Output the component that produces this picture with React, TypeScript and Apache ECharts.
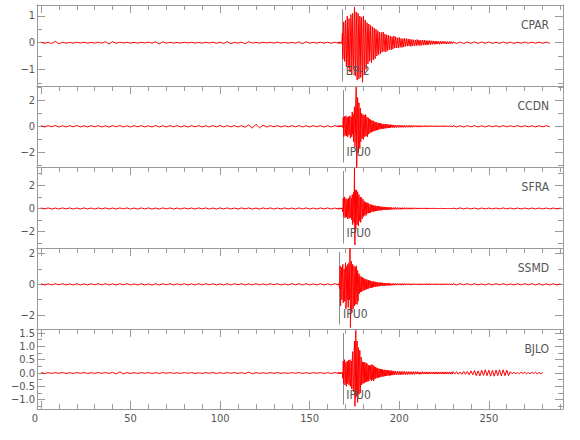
import React, { useEffect, useRef } from 'react';
import * as echarts from 'echarts';

// ---------- Data ----------
const STATIONS = ['CPAR', 'CCDN', 'SFRA', 'SSMD', 'BJLO'];
const PICK_TIMES = [168.2, 168.6, 168.6, 166.7, 168.5];
const PICK_LABELS = ['EP-2', 'IPU0', 'IPU0', 'IPU0', 'IPU0'];

const X_MAJOR = [0, 50, 100, 150, 200, 250];
const X_MINOR = [10, 20, 30, 40, 60, 70, 80, 90, 110, 120, 130, 140, 160, 170, 180, 190, 210, 220, 230, 240, 260, 270, 280, 290];

const Y_MIN = [-1.62, -3.11, -3.41, -2.9, -1.35];
const Y_MAX = [1.41, 3.08, 3.58, 2.36, 1.65];
const Y_MAJOR = [[-1, 0, 1], [-2, 0, 2], [-2, 0, 2], [-2, 0, 2], [-1, -0.5, 0, 0.5, 1, 1.5]];
const Y_MINOR = [[-1.5, -0.5, 0.5], [-3, -1, 1, 3], [-3, -1, 1, 3], [-1, 1], [-1.25, -0.75, -0.25, 0.25, 0.75, 1.25]];
const Y_DECIMALS = [0, 0, 0, 0, 1];

// sampling of the traces (seconds): pre-event, main event, early coda, late coda
const PRE_START = 0, PRE_STEP = 2;
const EV1_START = 166, EV1_STEP = 0.25;
const EV2_START = 196, EV2_STEP = 0.5;
const TAIL_START = 230;
const TAIL_STEP = [2, 2, 2, 2, 1];

// ---- CPAR ----
const CPAR_PRE = [
  0.015, -0.02, 0.01, -0.03, 0.05, -0.04, 0.015, -0.015, 0.01, -0.015, 0.015, -0.01, 0.015, -0.015,
  0.01, -0.015, 0.015, -0.02, 0.04, -0.05, 0.04, -0.02, 0.015, -0.01, 0.015, -0.015, 0.01, -0.015,
  0.015, -0.01, 0.02, -0.015, 0.03, -0.05, 0.035, -0.02, 0.015, -0.015, 0.01, -0.015, 0.015, -0.01,
  0.015, -0.015, 0.01, -0.015, 0.015, -0.01, 0.015, -0.02, 0.015, -0.03, 0.04, -0.035, 0.015, -0.015,
  0.02, -0.04, 0.035, -0.015, 0.01, -0.015, 0.015, -0.01, 0.015, -0.015, 0.02, -0.015, 0.01, -0.015,
  0.015, -0.02, 0.03, -0.04, 0.035, -0.02, 0.015, -0.015, 0.02, -0.015, 0.015, -0.02, 0.015, -0.015,
];
const CPAR_EV1 = [
  0.02, -0.03, 0.03, -0.02, 0.03, -0.02, 0.02, -0.03, 0.02,
  0.35,
  -0.62, 0.45, 0.78, -0.3, -0.7, 0.55, 0.85, -0.5, -0.9, 0.3,
  1.0, -0.6, -0.95, 0.4, 0.9, -0.8, -1.1, 0.2, 1.05, 0.7,
  -1.2, -0.5, 1.1, 0.3, -1.0, -0.6, 1.33, 0.8, -1.25, -0.4,
  1.15, 0.5, -1.4, -0.9, 1.1, 0.6, -1.35, -0.3, 1.0, 0.7,
  -1.3, -0.5, 0.95, 0.4, -1.48, -0.7, 1.0, 0.45, -1.2, -0.3,
  0.85, 0.3, -1.0, -0.4, 0.75, 0.5, -0.8, -0.2, 0.7, 0.4,
  -0.7, -0.3, 0.65, 0.2, -0.75, -0.4, 0.6, 0.3, -0.65, -0.2,
  0.55, 0.3, -0.6, -0.2, 0.5, 0.25, -0.5, -0.3, 0.45, 0.2,
  -0.45, -0.2, 0.4, 0.15, -0.42, -0.25, 0.38, 0.2, -0.35, -0.15,
  0.4, 0.2, -0.33, -0.1, 0.32, 0.15, -0.35, -0.2, 0.3, 0.1,
  -0.3, -0.15, 0.28, 0.12, -0.26, -0.1, 0.25, 0.15, -0.27, -0.1,
];
const CPAR_EV2 = [
  0.22, -0.24, 0.25, -0.2, 0.22, -0.2, 0.18, -0.2, 0.2, -0.17,
  0.16, -0.18, 0.15, -0.16, 0.17, -0.14, 0.15, -0.13, 0.14, -0.12,
  0.13, -0.14, 0.12, -0.12, 0.11, -0.12, 0.1, -0.11, 0.12, -0.1,
  0.1, -0.11, 0.09, -0.1, 0.1, -0.09, 0.1, -0.09, 0.08, -0.09,
  0.08, -0.07, 0.08, -0.07, 0.07, -0.06, 0.07, -0.06, 0.06, -0.06,
  0.06, -0.05, 0.05, -0.06, 0.05, -0.05, 0.05, -0.04, 0.05, -0.04,
  0.04, -0.05, 0.04, -0.04, 0.04, -0.04, 0.04, -0.03,
];
const CPAR_TAIL = [
  0.03, -0.03, 0.025, -0.03, 0.025, -0.025, 0.03, -0.025, 0.025, -0.02,
  0.025, -0.025, 0.02, -0.025, 0.025, -0.02, 0.02, -0.025, 0.02, -0.02,
  0.025, -0.02, 0.02, -0.02, 0.02, -0.02, 0.02, -0.02,
];

// ---- CCDN ----
const CCDN_PRE = [
  0.04, -0.05, 0.05, -0.04, 0.06, -0.05, 0.04, -0.05, 0.05, -0.04, 0.06, -0.05, 0.04, -0.05,
  0.05, -0.04, 0.05, -0.05, 0.04, -0.06, 0.05, -0.04, 0.05, -0.05, 0.04, -0.05, 0.05, -0.04,
  0.05, -0.05, 0.04, -0.05, 0.06, -0.05, 0.04, -0.05, 0.05, -0.04, 0.05, -0.05, 0.04, -0.05,
  0.05, -0.04, 0.05, -0.05, 0.04, -0.05, 0.05, -0.04, 0.06, -0.05, 0.05, -0.04, 0.05, -0.05,
  0.05, -0.07, 0.1, -0.14, 0.15, -0.12, 0.08, -0.05, 0.05, -0.04, 0.05, -0.05, 0.04, -0.05,
  0.05, -0.04, 0.05, -0.05, 0.04, -0.05, 0.05, -0.04, 0.05, -0.05, 0.04, -0.05, 0.05, -0.04,
];
const CCDN_EV1 = [
  0.05, -0.04, 0.05, -0.06, 0.04, -0.05, 0.05, -0.04, 0.05, -0.05,
  -0.1, 0.7, -0.8, 0.3, 0.75, -0.7, -0.3, 0.8, -0.75, 0.4,
  0.7, -0.8, -0.4, 0.75, -0.65, 0.5, 0.8, -0.9, -0.3, 0.7,
  -0.8, 1.1, -0.6, 0.9, -1.2, 0.8, 1.5, -1.6, -0.8, 2.2,
  3.0, -3.15, -1.5, 2.2, 1.0, -2.0, 1.8, -0.9, -1.7, 1.4,
  -1.2, 0.6, 1.0, -0.95, -0.5, 0.9, -1.0, 0.4, 0.85, -0.8,
  -0.4, 0.9, -0.75, 0.3, 0.7, -0.8, -0.3, 0.65, -0.6, 0.2,
  0.55, -0.5, 0.5, -0.2, -0.45, 0.45, -0.4, 0.2, 0.42, -0.38,
  -0.2, 0.35, -0.36, 0.15, 0.32, -0.3, 0.3, -0.1, -0.28, 0.26,
  -0.25, 0.1, 0.24, -0.22, 0.22, -0.1, -0.2, 0.2, -0.19, 0.08,
  0.18, -0.18, 0.17, -0.08, -0.16, 0.16, -0.15, 0.07, 0.15, -0.14,
  0.14, -0.06, -0.13, 0.13, -0.12, 0.05, 0.12, -0.12, 0.11, -0.05,
];
const CCDN_EV2 = [
  0.11, -0.11, 0.1, -0.1, 0.1, -0.09, 0.09, -0.09, 0.09, -0.08,
  0.08, -0.08, 0.08, -0.08, 0.07, -0.08, 0.07, -0.07, 0.07, -0.07,
  0.07, -0.07, 0.06, -0.07, 0.06, -0.06, 0.06, -0.06, 0.06, -0.06,
  0.06, -0.06, 0.05, -0.06, 0.05, -0.05, 0.06, -0.05, 0.05, -0.05,
  0.05, -0.05, 0.05, -0.05, 0.05, -0.05, 0.05, -0.04, 0.05, -0.05,
  0.04, -0.05, 0.05, -0.04, 0.05, -0.05, 0.04, -0.05, 0.05, -0.04,
  0.05, -0.04, 0.04, -0.05, 0.05, -0.04, 0.04, -0.05,
];
const CCDN_TAIL = [
  0.05, -0.05, 0.04, -0.05, 0.05, -0.04, 0.05, -0.05, 0.04, -0.05,
  0.05, -0.04, 0.04, -0.05, 0.05, -0.04, 0.04, -0.04, 0.05, -0.04,
  0.04, -0.04, 0.04, -0.05, 0.04, -0.04, 0.04, -0.04,
];

// ---- SFRA ----
const SFRA_PRE = [
  0.05, -0.04, 0.05, -0.05, 0.04, -0.05, 0.05, -0.04, 0.05, -0.05, 0.04, -0.05, 0.05, -0.04,
  0.04, -0.05, 0.05, -0.04, 0.05, -0.05, 0.04, -0.05, 0.05, -0.04, 0.05, -0.05, 0.04, -0.05,
  0.05, -0.04, 0.05, -0.05, 0.04, -0.05, 0.05, -0.04, 0.05, -0.05, 0.04, -0.05, 0.05, -0.04,
  0.04, -0.05, 0.05, -0.04, 0.05, -0.05, 0.04, -0.05, 0.05, -0.04, 0.05, -0.05, 0.04, -0.05,
  0.05, -0.04, 0.05, -0.05, 0.04, -0.05, 0.05, -0.04, 0.05, -0.05, 0.04, -0.05, 0.05, -0.04,
  0.04, -0.05, 0.05, -0.04, 0.05, -0.05, 0.04, -0.05, 0.05, -0.04, 0.05, -0.05, 0.04, -0.05,
];
const SFRA_EV1 = [
  0.05, -0.05, 0.04, -0.05, 0.05, -0.04, 0.05, -0.05, 0.05, -0.04,
  -0.3, 0.9, -0.7, 0.4, 1.0, -0.8, -0.3, 0.85, -0.75, 0.3,
  0.8, -0.9, -0.4, 0.9, -0.85, 0.5, 1.1, -0.8, -0.5, 0.9,
  -1.0, 1.2, -1.4, 0.6, 1.4, -1.2, 3.5, -3.15, 1.6, -1.8,
  1.6, -0.8, -1.4, 1.45, 0.6, -1.5, 1.2, -0.5, -1.1, 1.0,
  -1.2, 0.5, 0.95, -0.9, -0.4, 0.8, -0.7, 0.3, 0.65, -0.6,
  0.55, -0.2, -0.6, 0.5, -0.45, 0.2, 0.5, -0.42, 0.4, -0.15,
  -0.38, 0.36, -0.35, 0.1, 0.32, -0.3, 0.3, -0.1, -0.28, 0.26,
  -0.25, 0.1, 0.25, -0.23, 0.22, -0.08, -0.21, 0.2, -0.2, 0.07,
  0.19, -0.18, 0.17, -0.06, -0.16, 0.16, -0.15, 0.06, 0.15, -0.14,
  0.13, -0.05, -0.13, 0.13, -0.12, 0.05, 0.12, -0.11, 0.11, -0.04,
  -0.11, 0.1, -0.1, 0.04, 0.1, -0.1, 0.09, -0.04, -0.09, 0.09,
];
const SFRA_EV2 = [
  0.09, -0.09, 0.09, -0.08, 0.08, -0.08, 0.08, -0.08, 0.07, -0.08,
  0.07, -0.07, 0.07, -0.07, 0.07, -0.06, 0.07, -0.06, 0.06, -0.06,
  0.06, -0.06, 0.06, -0.06, 0.06, -0.05, 0.06, -0.05, 0.05, -0.05,
  0.05, -0.05, 0.05, -0.05, 0.05, -0.05, 0.05, -0.05, 0.05, -0.05,
  0.05, -0.04, 0.05, -0.05, 0.04, -0.05, 0.05, -0.04, 0.05, -0.04,
  0.04, -0.05, 0.04, -0.04, 0.05, -0.04, 0.04, -0.04, 0.04, -0.04,
  0.04, -0.04, 0.04, -0.04, 0.04, -0.04, 0.04, -0.04,
];
const SFRA_TAIL = [
  0.04, -0.04, 0.05, -0.04, 0.04, -0.04, 0.04, -0.05, 0.04, -0.04,
  0.04, -0.04, 0.04, -0.04, 0.05, -0.04, 0.04, -0.04, 0.04, -0.04,
  0.04, -0.04, 0.04, -0.04, 0.04, -0.04, 0.04, -0.04, 0.04, -0.04,
  0.04,
];

// ---- SSMD ----
const SSMD_PRE = [
  0.04, -0.04, 0.03, -0.04, 0.04, -0.03, 0.04, -0.04, 0.03, -0.04, 0.04, -0.04, 0.03, -0.04,
  0.04, -0.03, 0.04, -0.04, 0.04, -0.04, 0.03, -0.04, 0.04, -0.03, 0.04, -0.04, 0.03, -0.04,
  0.04, -0.04, 0.03, -0.04, 0.04, -0.04, 0.04, -0.03, 0.04, -0.04, 0.03, -0.04, 0.04, -0.04,
  0.03, -0.04, 0.04, -0.04, 0.04, -0.03, 0.04, -0.04, 0.03, -0.04, 0.04, -0.04, 0.04, -0.03,
  0.04, -0.04, 0.03, -0.04, 0.04, -0.04, 0.03, -0.04, 0.04, -0.03, 0.04, -0.04, 0.03, -0.04,
  0.04, -0.03, 0.04, -0.04, 0.04, -0.04, 0.03, -0.04, 0.04, -0.04, 0.03, -0.04, 0.04, -0.04,
];
const SSMD_EV1 = [
  0.04, -0.04, 0.03,
  -0.3,
  1.2, -1.4, 0.4, 1.1, -1.0, 0.5,
  1.3, -1.2, -0.4, 1.0, -1.1, 0.6, 1.4, -1.6, -0.5, 1.2,
  -1.0, 1.3, -1.5, 0.4, 1.4, -1.0, 2.35, -2.8, -1.0, 1.5,
  -1.8, 0.6, 1.3, -1.6, -0.6, 1.2, -1.4, 0.5, 1.1, -1.3,
  1.2, -0.5, -1.3, 0.9, -1.1, 0.3, 0.7, -0.6, 0.55, -0.2,
  -0.5, 0.5, -0.5, 0.2, 0.45, -0.42, 0.4, -0.15, -0.38, 0.36,
  -0.35, 0.15, 0.33, -0.32, 0.3, -0.1, -0.3, 0.28, -0.26, 0.1,
  0.25, -0.24, 0.22, -0.08, -0.22, 0.2, -0.2, 0.08, 0.19, -0.18,
  0.17, -0.07, -0.16, 0.16, -0.15, 0.06, 0.14, -0.14, 0.13, -0.05,
  -0.12, 0.12, -0.12, 0.05, 0.11, -0.11, 0.1, -0.04, -0.1, 0.1,
  -0.09, 0.04, 0.09, -0.09, 0.09, -0.04, -0.08, 0.08, -0.08, 0.03,
  0.08, -0.07, 0.07, -0.03, -0.07, 0.07, -0.07, 0.03, 0.06, -0.06,
];
const SSMD_EV2 = [
  0.06, -0.06, 0.06, -0.06, 0.06, -0.05, 0.06, -0.05, 0.05, -0.05,
  0.05, -0.05, 0.05, -0.05, 0.05, -0.05, 0.05, -0.04, 0.05, -0.04,
  0.04, -0.05, 0.04, -0.04, 0.05, -0.04, 0.04, -0.04, 0.04, -0.04,
  0.04, -0.04, 0.04, -0.05, 0.04, -0.04, 0.04, -0.04, 0.04, -0.04,
  0.04, -0.04, 0.05, -0.04, 0.04, -0.04, 0.04, -0.04, 0.04, -0.04,
  0.04, -0.04, 0.04, -0.04, 0.04, -0.05, 0.04, -0.04, 0.04, -0.04,
  0.04, -0.04, 0.04, -0.04, 0.04, -0.04, 0.04, -0.04,
];
const SSMD_TAIL = [
  0.04, -0.04, 0.04, -0.03, 0.04, -0.04, 0.04, -0.04, 0.03, -0.04,
  0.04, -0.04, 0.04, -0.03, 0.04, -0.04, 0.03, -0.04, 0.04, -0.04,
  0.04, -0.03, 0.04, -0.04, 0.04, -0.04, 0.03, -0.04, 0.04, -0.04,
  0.04,
];

// ---- BJLO ----
const BJLO_PRE = [
  0.015, -0.015, 0.01, -0.015, 0.015, -0.01, 0.015, -0.015, 0.01, -0.015, 0.015, -0.01, 0.015, -0.015,
  0.01, -0.015, 0.015, -0.01, 0.015, -0.015, 0.02, -0.03, 0.04, -0.03, 0.015, -0.015, 0.01, -0.015,
  0.015, -0.01, 0.015, -0.015, 0.01, -0.015, 0.015, -0.01, 0.015, -0.015, 0.01, -0.015, 0.015, -0.01,
  0.015, -0.015, 0.01, -0.015, 0.015, -0.01, 0.015, -0.015, 0.01, -0.015, 0.015, -0.01, 0.015, -0.015,
  0.015, -0.02, 0.03, -0.03, 0.015, -0.015, 0.01, -0.015, 0.015, -0.01, 0.015, -0.015, 0.01, -0.015,
  0.015, -0.01, 0.015, -0.015, 0.01, -0.015, 0.015, -0.01, 0.015, -0.015, 0.01, -0.015, 0.015, -0.015,
];
const BJLO_EV1 = [
  0.02, -0.02, 0.03, -0.02, 0.02, -0.03, 0.02, -0.02, 0.03, -0.02,
  -0.2, 0.45, -0.4, 0.2, 0.5, -0.45, -0.15, 0.4, -0.5, 0.25,
  0.45, -0.4, -0.2, 0.48, -0.45, 0.2, 0.5, -0.5, -0.2, 0.45,
  -0.6, 0.5, 0.8, -0.5, -0.7, 0.6, 1.2, -1.25, -0.6, 1.6,
  -0.9, 0.4, 1.2, -1.1, -0.5, 0.95, -0.8, 0.4, 0.85, -0.75,
  -0.3, 0.6, -0.45, 0.2, 0.42, -0.4, 0.4, -0.15, -0.38, 0.4,
  -0.35, 0.15, 0.38, -0.33, 0.35, -0.1, -0.32, 0.3, -0.3, 0.1,
  0.28, -0.25, 0.3, -0.1, -0.3, 0.32, -0.25, 0.1, 0.28, -0.3,
  0.25, -0.08, -0.22, 0.22, -0.2, 0.06, 0.2, -0.18, 0.18, -0.06,
  -0.17, 0.16, -0.16, 0.05, 0.15, -0.15, 0.14, -0.05, -0.14, 0.13,
  -0.13, 0.04, 0.12, -0.12, 0.12, -0.04, -0.11, 0.11, -0.1, 0.04,
  0.1, -0.1, 0.1, -0.03, -0.09, 0.09, -0.09, 0.03, 0.09, -0.08,
];
const BJLO_EV2 = [
  0.08, -0.08, 0.08, -0.07, 0.07, -0.07, 0.07, -0.07, 0.06, -0.07,
  0.06, -0.06, 0.06, -0.06, 0.06, -0.06, 0.05, -0.06, 0.05, -0.05,
  0.05, -0.05, 0.05, -0.05, 0.05, -0.05, 0.05, -0.04, 0.05, -0.04,
  0.04, -0.05, 0.04, -0.04, 0.05, -0.04, 0.04, -0.04, 0.04, -0.04,
  0.04, -0.04, 0.04, -0.04, 0.04, -0.04, 0.04, -0.04, 0.04, -0.04,
  0.04, -0.04, 0.04, -0.04, 0.04, -0.04, 0.04, -0.04, 0.04, -0.04,
  0.04, -0.04, 0.04, -0.04, 0.04, -0.04, 0.04, -0.04,
];
const BJLO_TAIL = [
  0.05, -0.04, 0.05, -0.05, 0.04, -0.05, 0.06, -0.05, 0.06, -0.07,
  0.08, -0.07, 0.09, -0.1, 0.08, -0.11, 0.1, -0.09, 0.12, -0.1,
  0.11, -0.12, 0.1, -0.12, 0.11, -0.1, 0.12, -0.11, 0.12, -0.1,
  0.11, -0.1, 0.05, -0.03, 0.03, -0.03, 0.02, -0.03, 0.03, -0.02,
  0.03, -0.03, 0.02, -0.03, 0.03, -0.02, 0.03, -0.03, 0.02, -0.03,
  0.02,
];

const PRE = [CPAR_PRE, CCDN_PRE, SFRA_PRE, SSMD_PRE, BJLO_PRE];
const EV1 = [CPAR_EV1, CCDN_EV1, SFRA_EV1, SSMD_EV1, BJLO_EV1];
const EV2 = [CPAR_EV2, CCDN_EV2, SFRA_EV2, SSMD_EV2, BJLO_EV2];
const TAIL = [CPAR_TAIL, CCDN_TAIL, SFRA_TAIL, SSMD_TAIL, BJLO_TAIL];

// ---------- Layout / style ----------
const X_MIN = -2.2;
const X_MAX = 291.4;
const GRID_TOP = [5, 86, 167, 248, 329];
const GRID_H = [81, 81, 81, 81, 80];
const GRAY = '#9a9a9a';
const TEXT = '#555555';
const FONT = "'Liberation Sans Narrow', 'DejaVu Sans Condensed', 'Liberation Sans', sans-serif";

function seg(start: number, step: number, vals: number[]) {
  return vals.map((v, i) => [start + i * step, v]);
}

function fmt(v: number, dec: number) {
  return v.toFixed(dec).replace('-', '\u2212');
}

function buildOption() {
  const grid: any[] = [];
  const xAxis: any[] = [];
  const yAxis: any[] = [];
  const series: any[] = [];
  const tickStyle = { color: GRAY, width: 1 };

  for (let i = 0; i < 5; i++) {
    const last = i === 4;
    grid.push({ left: 37, right: 17, top: GRID_TOP[i], height: GRID_H[i] });

    const xBase = {
      gridIndex: i, type: 'value', min: X_MIN, max: X_MAX,
      splitLine: { show: false },
    };
    const xIdx = xAxis.length;
    xAxis.push({
      ...xBase, position: 'bottom',
      axisLine: { show: true, onZero: false, lineStyle: tickStyle },
      axisTick: { show: last, inside: true, length: 8, customValues: X_MAJOR, lineStyle: tickStyle },
      axisLabel: {
        show: last, customValues: X_MAJOR, margin: 4, color: TEXT, fontSize: 11, fontFamily: FONT,
        formatter: (v: number) => (v === 0 ? '{z|0}' : String(v)),
        rich: { z: { padding: [0, 12, 0, 0], color: TEXT, fontSize: 11, fontFamily: FONT } },
      },
    });
    xAxis.push({
      ...xBase, position: 'bottom',
      axisLine: { show: false, onZero: false },
      axisTick: { show: last, inside: true, length: 5, customValues: X_MINOR, lineStyle: tickStyle },
      axisLabel: { show: false },
    });
    xAxis.push({
      ...xBase, position: 'top',
      axisLine: { show: true, onZero: false, lineStyle: tickStyle },
      axisTick: { show: true, inside: true, length: 8, customValues: X_MAJOR, lineStyle: tickStyle },
      axisLabel: { show: false },
    });
    xAxis.push({
      ...xBase, position: 'top',
      axisLine: { show: false, onZero: false },
      axisTick: { show: true, inside: true, length: 5, customValues: X_MINOR, lineStyle: tickStyle },
      axisLabel: { show: false },
    });

    const yBase = {
      gridIndex: i, type: 'value', min: Y_MIN[i], max: Y_MAX[i],
      splitLine: { show: false },
    };
    const yIdx = yAxis.length;
    const dec = Y_DECIMALS[i];
    yAxis.push({
      ...yBase, position: 'left',
      axisLine: { show: true, onZero: false, lineStyle: tickStyle },
      axisTick: { show: true, inside: true, length: 8, customValues: Y_MAJOR[i], lineStyle: tickStyle },
      axisLabel: {
        show: true, customValues: Y_MAJOR[i], margin: 2, color: TEXT, fontSize: 11, fontFamily: FONT,
        formatter: (v: number) => fmt(v, dec),
      },
    });
    yAxis.push({
      ...yBase, position: 'left',
      axisLine: { show: false, onZero: false },
      axisTick: { show: true, inside: true, length: 5, customValues: Y_MINOR[i], lineStyle: tickStyle },
      axisLabel: { show: false },
    });
    yAxis.push({
      ...yBase, position: 'right',
      axisLine: { show: true, onZero: false, lineStyle: tickStyle },
      axisTick: { show: true, inside: true, length: 8, customValues: Y_MAJOR[i], lineStyle: tickStyle },
      axisLabel: { show: false },
    });
    yAxis.push({
      ...yBase, position: 'right',
      axisLine: { show: false, onZero: false },
      axisTick: { show: true, inside: true, length: 5, customValues: Y_MINOR[i], lineStyle: tickStyle },
      axisLabel: { show: false },
    });

    const data = [
      ...seg(PRE_START, PRE_STEP, PRE[i]),
      ...seg(EV1_START, EV1_STEP, EV1[i]),
      ...seg(EV2_START, EV2_STEP, EV2[i]),
      ...seg(TAIL_START, TAIL_STEP[i], TAIL[i]),
    ];
    const range = Y_MAX[i] - Y_MIN[i];
    const t = PICK_TIMES[i];
    const labelStyle = { color: TEXT, fontSize: 12, fontFamily: FONT };

    series.push({
      type: 'line',
      xAxisIndex: xIdx,
      yAxisIndex: yIdx,
      data,
      symbol: 'none',
      showSymbol: false,
      clip: false,
      silent: true,
      lineStyle: { color: '#ff0000', width: 1 },
      z: 2,
      markLine: {
        silent: true,
        symbol: ['none', 'none'],
        label: { show: false },
        lineStyle: { color: '#8c8c8c', width: 1, type: 'solid' },
        data: [[
          { coord: [t, Y_MIN[i] + 0.055 * range] },
          { coord: [t, Y_MAX[i] - 0.05 * range] },
        ]],
        z: 1,
      },
      markPoint: {
        silent: true,
        data: [
          {
            coord: [t, Y_MIN[i] + 0.18 * range],
            symbol: 'circle', symbolSize: 1,
            itemStyle: { color: 'rgba(0,0,0,0)' },
            label: { show: true, position: 'right', distance: 3, formatter: PICK_LABELS[i], ...labelStyle },
          },
          {
            coord: [283.9, Y_MAX[i] - 0.25 * range],
            symbol: 'circle', symbolSize: 1,
            itemStyle: { color: 'rgba(0,0,0,0)' },
            label: { show: true, position: 'left', distance: 0, formatter: STATIONS[i], ...labelStyle },
          },
        ],
      },
    });
  }

  return {
    animation: false,
    backgroundColor: '#ffffff',
    grid,
    xAxis,
    yAxis,
    series,
  };
}

export default function App() {
  const ref = useRef<HTMLDivElement>(null);
  useEffect(() => {
    if (!ref.current) return;
    const chart = echarts.init(ref.current, undefined, { renderer: 'svg' });
    chart.setOption(buildOption() as any);
    return () => chart.dispose();
  }, []);
  return (
    <div
      ref={ref}
      style={{ position: 'fixed', left: 0, top: 0, width: 580, height: 440, background: '#fff' }}
    />
  );
}
